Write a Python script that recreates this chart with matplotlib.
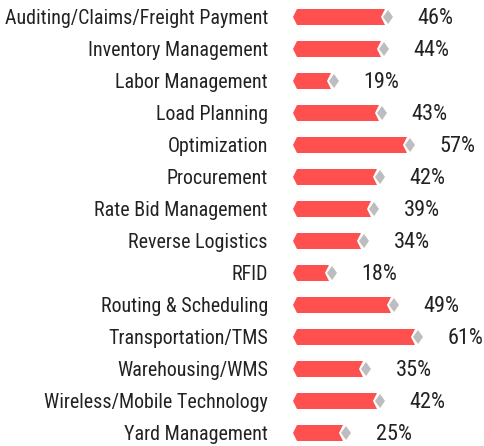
import matplotlib.pyplot as plt
from matplotlib.patches import Polygon

categories = ["Auditing/Claims/Freight Payment", "Inventory Management", "Labor Management",
              "Load Planning", "Optimization", "Procurement", "Rate Bid Management",
              "Reverse Logistics", "RFID", "Routing & Scheduling", "Transportation/TMS",
              "Warehousing/WMS", "Wireless/Mobile Technology", "Yard Management"]
values = [46, 44, 19, 43, 57, 42, 39, 34, 18, 49, 61, 35, 42, 25]

plt.rcParams["font.family"] = ["Roboto Condensed", "DejaVu Sans"]

W, H = 485, 446
fig = plt.figure(figsize=(W / 100, H / 100), dpi=100)
x_left = 293
ax = fig.add_axes([x_left / W, 0, 1 - x_left / W, 1])
px = 2.0  # pixels per percent
ax.set_xlim(0, (W - x_left) / px)
ax.set_ylim(13 + 13 / 32, -17 / 32)
ax.axis("off")

red = "#ff5050"
grey = "#bdbdc0"
xu = 1 / px   # one pixel in x
yu = 1 / 32   # one pixel in y
hh = 8 * yu   # half bar height

for i, (cat, v) in enumerate(zip(categories, values)):
    bar = Polygon([(0, i), (4 * xu, i - hh), (v, i - hh), (v - 4 * xu, i),
                   (v, i + hh), (4 * xu, i + hh)], closed=True, fc=red, ec="none")
    ax.add_patch(bar)
    dl = v - 2 * xu
    dia = Polygon([(dl, i), (dl + 5 * xu, i - 7 * yu), (dl + 10 * xu, i),
                   (dl + 5 * xu, i + 7 * yu)], closed=True, fc=grey, ec="none")
    ax.add_patch(dia)
    ax.annotate(f"{v}%", xy=(v, i + 1.5 * yu), xytext=(23.5, 0), textcoords="offset points",
                ha="left", va="center", fontsize=16, color="#222222")
    ax.annotate(cat, xy=(0, i + 1.5 * yu), xytext=(-18, 0), textcoords="offset points",
                ha="right", va="center", fontsize=14.4, color="#222222",
                annotation_clip=False)

plt.savefig("out.png", dpi=100)
